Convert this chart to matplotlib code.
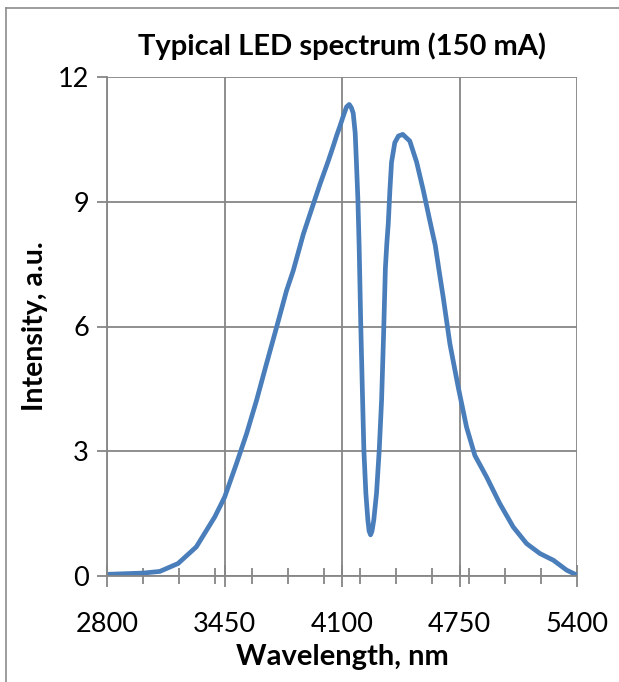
import matplotlib
matplotlib.use("Agg")
import matplotlib.pyplot as plt
from matplotlib.lines import Line2D
from matplotlib.ticker import MultipleLocator

plt.rcParams['font.family'] = ['Lato', 'DejaVu Sans']

# spectrum
wavelength = [2800, 2999, 3092, 3193, 3294, 3396, 3451, 3516, 3572, 3627, 3682, 3738,
              3793, 3830, 3886, 3941, 3978, 4024, 4051, 4071, 4088, 4107, 4125, 4140,
              4152, 4162, 4173, 4180, 4188, 4195, 4204, 4214, 4221, 4232, 4243, 4250,
              4258, 4266, 4276, 4291, 4306, 4319, 4330, 4340, 4348, 4356, 4365, 4374,
              4392, 4412, 4436, 4475, 4513, 4550, 4587, 4616, 4635, 4660, 4697, 4743,
              4789, 4835, 4900, 4973, 5047, 5121, 5195, 5269, 5343, 5400]
intensity = [0.04, 0.07, 0.11, 0.30, 0.70, 1.42, 1.90, 2.70, 3.42, 4.22, 5.10, 5.98,
             6.86, 7.34, 8.22, 8.94, 9.42, 9.98, 10.33, 10.60, 10.81, 11.06, 11.28, 11.34,
             11.26, 11.13, 10.65, 9.93, 9.04, 7.90, 6.00, 4.23, 3.03, 1.99, 1.35, 1.08,
             0.99, 1.08, 1.35, 1.99, 3.03, 4.23, 5.80, 7.40, 8.00, 8.48, 9.28, 9.95,
             10.42, 10.58, 10.62, 10.46, 9.95, 9.27, 8.52, 7.95, 7.40, 6.70, 5.58, 4.54,
             3.58, 2.90, 2.38, 1.74, 1.18, 0.78, 0.54, 0.38, 0.14, 0.02]

x_ticks = [2800, 3450, 4100, 4750, 5400]
y_ticks = [0, 3, 6, 9, 12]

W, H = 619, 682
fig = plt.figure(figsize=(W / 100, H / 100), dpi=100)

# chart area border (only left and top edges are inside the crop)
border = "#8c8c8c"
fig.lines.append(Line2D([5.5 / W, 5.5 / W], [0, (H - 8) / H], transform=fig.transFigure,
                        color=border, linewidth=1.2))
fig.lines.append(Line2D([5.5 / W, 1], [(H - 8) / H, (H - 8) / H], transform=fig.transFigure,
                        color=border, linewidth=1.2))

ax = fig.add_axes([107 / W, (H - 576) / H, 470 / W, 499 / H])
ax.plot(wavelength, intensity, color="#4a7ebb", linewidth=3.4,
        solid_capstyle="round", solid_joinstyle="round")

ax.set_xlim(2800, 5400)
ax.set_ylim(0, 12)
ax.set_xticks(x_ticks)
ax.set_yticks(y_ticks)
ax.xaxis.set_minor_locator(MultipleLocator(200))
ax.grid(True, color="#868686", linewidth=1.3)
ax.set_axisbelow(True)

for side in ["top", "right"]:
    ax.spines[side].set_visible(False)
for side in ["left", "bottom"]:
    ax.spines[side].set_color("#868686")
    ax.spines[side].set_linewidth(1.3)

ax.tick_params(axis="x", which="major", direction="inout", length=16, width=1.3,
               color="#868686", labelsize=19.5, pad=18)
ax.tick_params(axis="x", which="minor", direction="inout", length=12, width=1.3, color="#868686")
ax.tick_params(axis="y", which="major", direction="out", length=7, width=1.3,
               color="#868686", labelsize=19.5, pad=6)

ax.set_title("Typical LED spectrum (150 mA)", fontsize=21, fontweight="bold", pad=16)
ax.set_xlabel("Wavelength, nm", fontsize=21, fontweight="bold")
ax.set_ylabel("Intensity, a.u.", fontsize=20.5, fontweight="bold")
ax.xaxis.set_label_coords(0.5, -0.136)
ax.yaxis.set_label_coords(-0.125, 0.5)

fig.savefig("out.png", dpi=100)
